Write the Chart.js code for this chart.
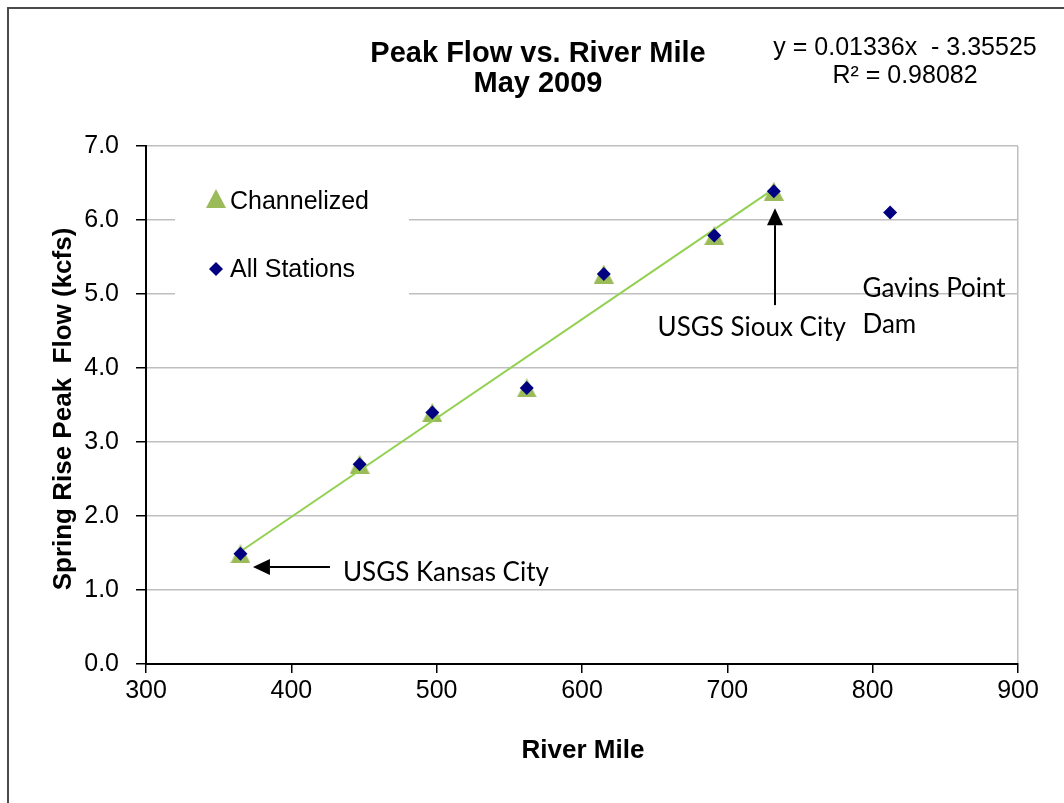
<!DOCTYPE html>
<html>
<head>
<meta charset="utf-8">
<script src="https://cdn.jsdelivr.net/npm/chart.js@4"></script>
<style>
  html, body { margin: 0; padding: 0; background: #fff; }
  canvas { display: block; }
</style>
</head>
<body>
<canvas id="peakChart" width="1064" height="803"></canvas>
<script>
// ========== DATA ==========
const riverMile   = [365, 447, 497, 562, 615, 691, 732, 812];
const allStations = [1.49, 2.70, 3.40, 3.73, 5.27, 5.79, 6.39, 6.10];
const channelMile = [365, 447, 497, 562, 615, 691, 732];
const channelized = [1.49, 2.70, 3.40, 3.73, 5.27, 5.79, 6.39];
const trendMile   = [365, 732];
const trendFlow   = [1.52, 6.42];
const xTicks = [300, 400, 500, 600, 700, 800, 900];
const yTicks = [0, 1, 2, 3, 4, 5, 6, 7];

const titleLines    = ['Peak Flow vs. River Mile', 'May 2009'];
const equationLines = ['y = 0.01336x  - 3.35525', 'R² = 0.98082'];
const legendItems   = ['Channelized', 'All Stations'];

// annotation text + arrows, in data units (river mile, kcfs)
const notes = [
  { text: 'USGS Kansas City', x: 435.5, y: 1.12 },
  { text: 'USGS Sioux City',  x: 652,   y: 4.43 },
  { text: 'Gavins Point',     x: 793,   y: 4.96 },
  { text: 'Dam',              x: 793,   y: 4.47 }
];
const arrows = [
  { from: [426.6, 1.31], to: [373.6, 1.31] },
  { from: [732.8, 4.85], to: [732.8, 6.16] }
];

const toPoints = (xs, ys) => xs.map((x, i) => ({ x: x, y: ys[i] }));

// ========== HELPERS ==========
// excel style triangle: fills a box centred on the point
function makeTriangle(w, h, color) {
  const c = document.createElement('canvas');
  c.width = w;
  c.height = h;
  const g = c.getContext('2d');
  g.fillStyle = color;
  g.beginPath();
  g.moveTo(w / 2, 0);
  g.lineTo(w, h);
  g.lineTo(0, h);
  g.closePath();
  g.fill();
  return c;
}
const triangleMark = makeTriangle(20, 19, '#9bbb59');

function drawArrow(ctx, x1, y1, x2, y2) {
  const ang = Math.atan2(y2 - y1, x2 - x1);
  const len = 17, half = 8;
  const bx = x2 - Math.cos(ang) * len, by = y2 - Math.sin(ang) * len;
  ctx.beginPath();
  ctx.moveTo(x1, y1);
  ctx.lineTo(bx, by);
  ctx.stroke();
  ctx.beginPath();
  ctx.moveTo(x2, y2);
  ctx.lineTo(bx + Math.sin(ang) * half, by - Math.cos(ang) * half);
  ctx.lineTo(bx - Math.sin(ang) * half, by + Math.cos(ang) * half);
  ctx.closePath();
  ctx.fill();
}

// ========== DECORATIONS PLUGIN ==========
const decorations = {
  id: 'decorations',
  beforeDatasetsDraw(chart) {
    const ctx = chart.ctx;
    ctx.save();
    // legend box (covers gridlines)
    ctx.fillStyle = '#fff';
    ctx.fillRect(175, 168, 234, 134);

    ctx.drawImage(triangleMark, 206, 189);
    // diamond marker
    ctx.fillStyle = '#000080';
    ctx.beginPath();
    ctx.moveTo(216, 262);
    ctx.lineTo(223, 269);
    ctx.lineTo(216, 276);
    ctx.lineTo(209, 269);
    ctx.closePath();
    ctx.fill();

    ctx.fillStyle = '#000';
    ctx.font = '25px "Liberation Sans", Arial, sans-serif';
    ctx.textAlign = 'left';
    ctx.textBaseline = 'alphabetic';
    ctx.fillText(legendItems[0], 230, 209);
    ctx.fillText(legendItems[1], 230, 277);
    ctx.restore();
  },
  afterDraw(chart) {
    const ctx = chart.ctx;
    const xs = chart.scales.x, ys = chart.scales.y;
    ctx.save();

    // outer frame
    ctx.strokeStyle = '#4a4a4a';
    ctx.lineWidth = 2;
    ctx.beginPath();
    ctx.moveTo(8, 803);
    ctx.lineTo(8, 8);
    ctx.lineTo(1064, 8);
    ctx.stroke();

    // chart title
    ctx.fillStyle = '#000';
    ctx.textAlign = 'center';
    ctx.textBaseline = 'alphabetic';
    ctx.font = 'bold 29px "Liberation Sans", Arial, sans-serif';
    ctx.fillText(titleLines[0], 538, 62);
    ctx.fillText(titleLines[1], 538, 92);

    // trendline equation
    ctx.font = '25px "Liberation Sans", Arial, sans-serif';
    ctx.fillText(equationLines[0], 905, 55);
    ctx.fillText(equationLines[1], 905, 83);

    // axis titles
    ctx.font = 'bold 26px "Liberation Sans", Arial, sans-serif';
    ctx.fillText('River Mile', 583, 758);
    ctx.save();
    ctx.translate(71, 409);
    ctx.rotate(-Math.PI / 2);
    ctx.fillText('Spring Rise Peak  Flow (kcfs)', 0, 0);
    ctx.restore();

    // annotations
    ctx.font = '26px Lato, "Open Sans", sans-serif';
    ctx.textAlign = 'left';
    notes.forEach(n => {
      ctx.fillText(n.text, xs.getPixelForValue(n.x), ys.getPixelForValue(n.y));
    });
    ctx.strokeStyle = '#000';
    ctx.fillStyle = '#000';
    ctx.lineWidth = 2;
    arrows.forEach(a => {
      drawArrow(ctx,
        xs.getPixelForValue(a.from[0]), ys.getPixelForValue(a.from[1]),
        xs.getPixelForValue(a.to[0]), ys.getPixelForValue(a.to[1]));
    });
    ctx.restore();
  }
};

// ========== CHART ==========
const tickFont = { family: '"Liberation Sans", Arial, sans-serif', size: 25 };

new Chart(document.getElementById('peakChart'), {
  type: 'scatter',
  data: {
    datasets: [
      {
        label: 'All Stations',
        data: toPoints(riverMile, allStations),
        pointStyle: 'rectRot',
        pointRadius: 7,
        backgroundColor: '#000080',
        borderColor: '#000080',
        borderWidth: 0
      },
      {
        label: 'Linear (Channelized)',
        data: toPoints(trendMile, trendFlow),
        showLine: true,
        pointRadius: 0,
        borderColor: '#92d050',
        borderWidth: 2
      },
      {
        label: 'Channelized',
        data: toPoints(channelMile, channelized),
        pointStyle: triangleMark,
        pointRadius: 10,
        backgroundColor: '#9bbb59',
        borderColor: '#9bbb59',
        borderWidth: 0
      }
    ]
  },
  options: {
    responsive: false,
    animation: false,
    layout: { padding: { left: 0, right: 46, top: 146, bottom: 0 } },
    plugins: {
      legend: { display: false },
      title: { display: false },
      tooltip: { enabled: false }
    },
    scales: {
      x: {
        type: 'linear',
        min: 300,
        max: 900,
        afterBuildTicks: s => { s.ticks = xTicks.map(v => ({ value: v })); },
        afterFit: s => { s.height = 139; },
        border: { color: '#000', width: 2 },
        grid: {
          color: c => (c.tick && c.tick.value === 900) ? '#bfbfbf' : 'rgba(0,0,0,0)',
          lineWidth: 1.5,
          tickColor: '#000',
          tickLength: 9
        },
        ticks: { color: '#000', font: tickFont, padding: 3, maxRotation: 0 }
      },
      y: {
        min: 0,
        max: 7,
        afterBuildTicks: s => { s.ticks = yTicks.map(v => ({ value: v })); },
        afterFit: s => { s.width = 146; },
        border: { color: '#000', width: 2 },
        grid: {
          color: '#bfbfbf',
          lineWidth: 1.5,
          tickColor: '#000',
          tickLength: 10
        },
        ticks: {
          color: '#000',
          font: tickFont,
          padding: 17,
          callback: v => v.toFixed(1)
        }
      }
    }
  },
  plugins: [decorations]
});
</script>
</body>
</html>
